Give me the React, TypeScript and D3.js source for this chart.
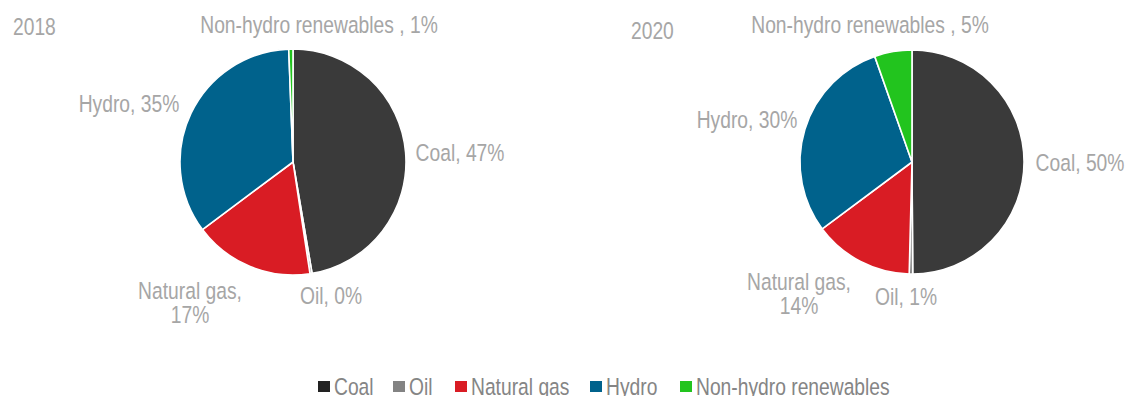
import React from "react";
import * as d3 from "d3";

const categories = ["Coal", "Oil", "Natural gas", "Hydro", "Non-hydro renewables"];
const colors = ["#3a3a3a", "#838383", "#d91c24", "#00628c", "#22c41e"];
const legendColors = ["#222222", "#838383", "#d91c24", "#00628c", "#22c41e"];
const values2018 = [47.3, 0.3, 17.2, 34.6, 0.6];
const values2020 = [49.9, 0.5, 14.4, 29.8, 5.4];
const labels2018 = [["Coal, 47%"], ["Oil, 0%"], ["Natural gas,", "17%"], ["Hydro, 35%"], ["Non-hydro renewables , 1%"]];
const labels2020 = [["Coal, 50%"], ["Oil, 1%"], ["Natural gas,", "14%"], ["Hydro, 30%"], ["Non-hydro renewables , 5%"]];
const years = ["2018", "2020"];

// label centre offsets relative to pie centre (layout)
const labelLayout2018: [number, number][] = [[167, -9], [38, 134], [-103, 141], [-164, -58], [26, -137]];
const labelLayout2020: [number, number][] = [[168, 1], [-6, 135], [-113, 132], [-165, -42], [-42, -137]];

const FONT = "'Liberation Sans', Arial, sans-serif";
const LABEL_COLOR = "#a6a6a6";
const FS = 23.5;
const SX = 0.82; // narrow font emulation

function NText({ x, y, lines, anchor = "start", fill, lh = 24 }: { x: number; y: number; lines: string[]; anchor?: string; fill: string; lh?: number }) {
  const top = -((lines.length - 1) * lh) / 2;
  return (
    <g transform={`translate(${x},${y}) scale(${SX},1)`}>
      <text textAnchor={anchor as any} fontFamily={FONT} fontSize={FS} fill={fill}>
        {lines.map((t, j) => (
          <tspan key={j} x={0} y={top + j * lh} dy="0.35em">{t}</tspan>
        ))}
      </text>
    </g>
  );
}

type PieProps = {
  cx: number; cy: number; r: number; values: number[]; labels: string[][];
  layout: [number, number][]; year: string; yearX: number; yearY: number;
};

function Pie({ cx, cy, r, values, labels, layout, year, yearX, yearY }: PieProps) {
  const pie = d3.pie<number>().sort(null).value((d) => d);
  const arcs = pie(values);
  const arc = d3.arc<d3.PieArcDatum<number>>().innerRadius(0).outerRadius(r);
  return (
    <g>
      <NText x={yearX} y={yearY} lines={[year]} fill={LABEL_COLOR} />
      <g transform={`translate(${cx},${cy})`}>
        {arcs.map((a, i) => (
          <path key={i} d={arc(a) || ""} fill={colors[i]} stroke="#ffffff" strokeWidth={1.6} strokeLinejoin="round" />
        ))}
        {arcs.map((a, i) => (
          <NText key={"l" + i} x={layout[i][0]} y={layout[i][1]} lines={labels[i]} anchor="middle" fill={LABEL_COLOR} />
        ))}
      </g>
    </g>
  );
}

export default function App() {
  const W = 1126, H = 396;
  const legendX = d3.scaleOrdinal<string, number>().domain(categories).range([318, 393, 455, 590, 680]);
  return (
    <svg width={W} height={H} style={{ position: "absolute", left: 0, top: 0, background: "#fff" }}>
      <Pie cx={293} cy={162} r={113} values={values2018} labels={labels2018} layout={labelLayout2018} year={years[0]} yearX={13} yearY={27} />
      <Pie cx={912} cy={162} r={112} values={values2020} labels={labels2020} layout={labelLayout2020} year={years[1]} yearX={631} yearY={31} />
      <g>
        {categories.map((c, i) => (
          <g key={c} transform={`translate(${legendX(c)},0)`}>
            <rect x={0} y={381} width={12} height={11} fill={legendColors[i]} />
            <g transform={`translate(16,395) scale(${SX},1)`}>
              <text x={0} y={0} fontFamily={FONT} fontSize={FS} fill="#858585">{c}</text>
            </g>
          </g>
        ))}
      </g>
    </svg>
  );
}
